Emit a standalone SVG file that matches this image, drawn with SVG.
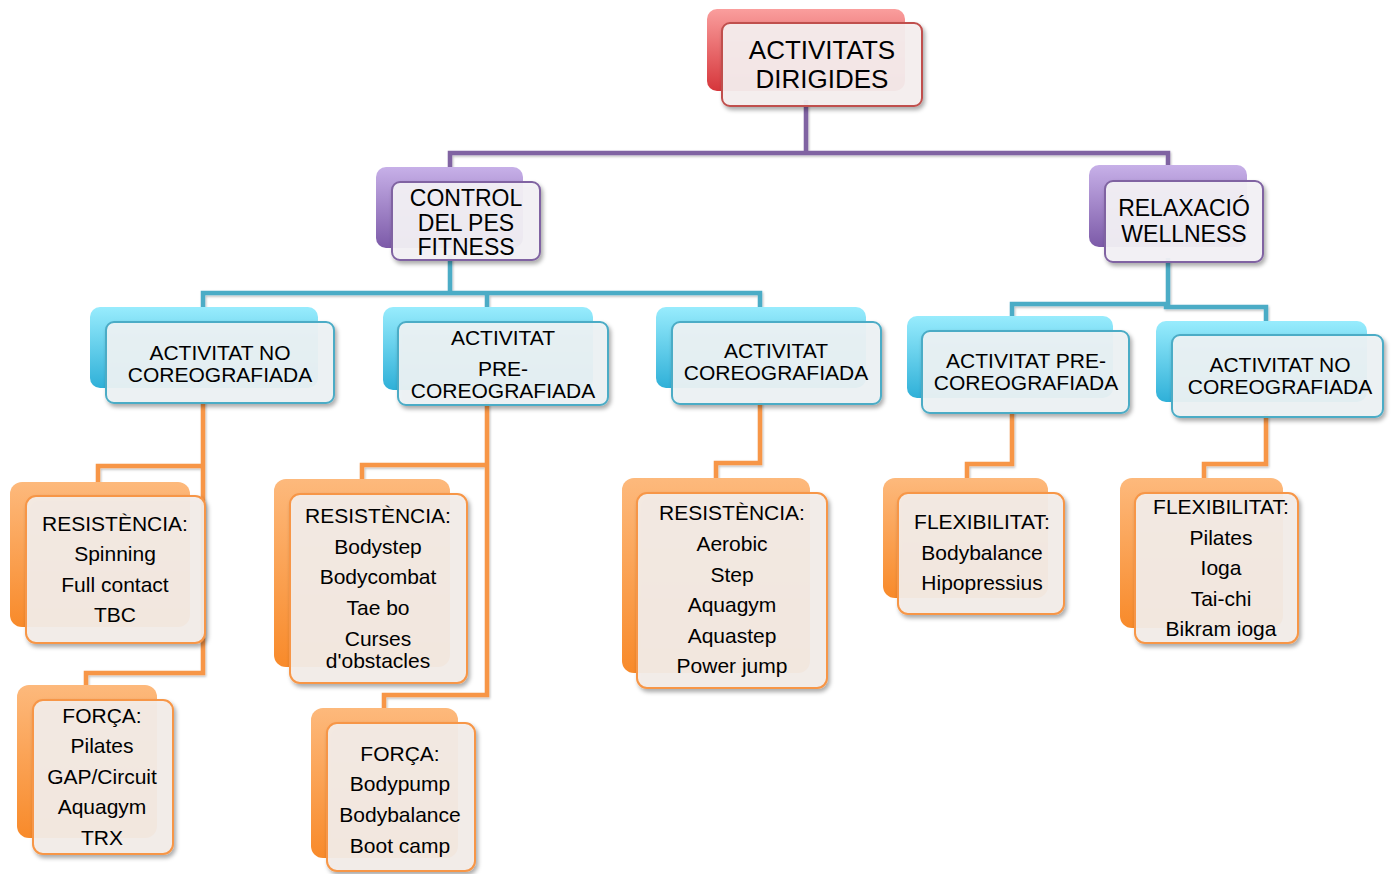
<svg xmlns="http://www.w3.org/2000/svg" width="1399" height="874" viewBox="0 0 1399 874">
<defs>
<linearGradient id="gRed" x1="0" y1="0" x2="0" y2="1"><stop offset="0" stop-color="#fa9e9d"/><stop offset="1" stop-color="#d6363b"/></linearGradient>
<linearGradient id="gPur" x1="0" y1="0" x2="0" y2="1"><stop offset="0" stop-color="#c7b0e8"/><stop offset="1" stop-color="#7c5aa8"/></linearGradient>
<linearGradient id="gCya" x1="0" y1="0" x2="0" y2="1"><stop offset="0" stop-color="#98ecfd"/><stop offset="1" stop-color="#2fb0d8"/></linearGradient>
<linearGradient id="gOra" x1="0" y1="0" x2="0" y2="1"><stop offset="0" stop-color="#fdb97c"/><stop offset="1" stop-color="#f88a2a"/></linearGradient>
<filter id="sh" x="-10%" y="-10%" width="125%" height="130%"><feDropShadow dx="2" dy="3" stdDeviation="2.2" flood-color="#000" flood-opacity="0.35"/></filter>
<filter id="lsh" x="-5%" y="-5%" width="110%" height="110%"><feDropShadow dx="1" dy="1.5" stdDeviation="1" flood-color="#000" flood-opacity="0.25"/></filter>
</defs>
<style>
.t{font-family:"Liberation Sans",Arial,sans-serif;fill:#000;text-anchor:middle}
.t26{font-size:26px}.t23{font-size:23px}.t22{font-size:22px}.t21{font-size:21px}
.f{stroke-width:2}
.fr{fill:#f6f0f0;fill-opacity:0.93;stroke:#c0504d}
.fp{fill:#f4f2f6;fill-opacity:0.93;stroke:#8064a2}
.fc{fill:#eef3f5;fill-opacity:0.93;stroke:#4bacc6}
.fo{fill:#f4eee9;fill-opacity:0.93;stroke:#f79646}
.c{fill:none;stroke-width:4.5;stroke-linejoin:miter}
.cp{stroke:#8064a2}.cc{stroke:#4bacc6}.co{stroke:#f79646}
</style>
<g id="connectors" filter="url(#lsh)">
<path class="c cp" d="M806,100 V153 H450 V185 M806,153 H1168 V185"/>
<path class="c cc" d="M450,255 V293 H203 V325 M450,293 H760 V325 M487,293 V325"/>
<path class="c cc" d="M1168,258 V304 H1012 V334 M1166,304 V307 H1266 V338"/>
<path class="c co" d="M203,400 V673 H86 V702 M203,466 H98 V498"/>
<path class="c co" d="M487,402 V695 H384 V725 M487,465 H362 V496"/>
<path class="c co" d="M760,400 V463 H716 V495"/>
<path class="c co" d="M1012,410 V464 H967 V495"/>
<path class="c co" d="M1266,414 V464 H1204 V495"/>
</g>
<g id="n-activitats-dirigides">
<rect x="707" y="9" width="198" height="82" rx="10" fill="url(#gRed)"/>
<rect class="f fr" x="722" y="23" width="200" height="83" rx="8" filter="url(#sh)"/>
<text class="t t26" x="822" y="59">ACTIVITATS</text>
<text class="t t26" x="822" y="88">DIRIGIDES</text>
</g>
<g id="n-control-del-pes">
<rect x="376" y="167" width="147" height="81" rx="10" fill="url(#gPur)"/>
<rect class="f fp" x="392" y="182" width="148" height="78" rx="8" filter="url(#sh)"/>
<text class="t t23" x="466" y="206">CONTROL</text>
<text class="t t23" x="466" y="231">DEL PES</text>
<text class="t t23" x="466" y="255">FITNESS</text>
</g>
<g id="n-relaxacio">
<rect x="1089" y="165" width="158" height="82" rx="10" fill="url(#gPur)"/>
<rect class="f fp" x="1105" y="181" width="158" height="81" rx="8" filter="url(#sh)"/>
<text class="t t23" x="1184" y="216">RELAXACIÓ</text>
<text class="t t23" x="1184" y="242">WELLNESS</text>
</g>
<g id="n-no-coreo-1">
<rect x="90" y="307" width="228" height="81" rx="10" fill="url(#gCya)"/>
<rect class="f fc" x="106" y="322" width="228" height="81" rx="8" filter="url(#sh)"/>
<text class="t t21" x="220" y="360">ACTIVITAT NO</text>
<text class="t t21" x="220" y="382">COREOGRAFIADA</text>
</g>
<g id="n-pre-coreo-1">
<rect x="383" y="307" width="210" height="83" rx="10" fill="url(#gCya)"/>
<rect class="f fc" x="398" y="322" width="210" height="83" rx="8" filter="url(#sh)"/>
<text class="t t21" x="503" y="345">ACTIVITAT</text>
<text class="t t21" x="503" y="376">PRE-</text>
<text class="t t21" x="503" y="398">COREOGRAFIADA</text>
</g>
<g id="n-coreo">
<rect x="656" y="307" width="210" height="81" rx="10" fill="url(#gCya)"/>
<rect class="f fc" x="672" y="322" width="209" height="82" rx="8" filter="url(#sh)"/>
<text class="t t21" x="776" y="358">ACTIVITAT</text>
<text class="t t21" x="776" y="380">COREOGRAFIADA</text>
</g>
<g id="n-pre-coreo-2">
<rect x="907" y="316" width="206" height="82" rx="10" fill="url(#gCya)"/>
<rect class="f fc" x="922" y="331" width="207" height="82" rx="8" filter="url(#sh)"/>
<text class="t t21" x="1026" y="368">ACTIVITAT PRE-</text>
<text class="t t21" x="1026" y="390">COREOGRAFIADA</text>
</g>
<g id="n-no-coreo-2">
<rect x="1156" y="321" width="211" height="81" rx="10" fill="url(#gCya)"/>
<rect class="f fc" x="1172" y="335" width="211" height="82" rx="8" filter="url(#sh)"/>
<text class="t t21" x="1280" y="372">ACTIVITAT NO</text>
<text class="t t21" x="1280" y="394">COREOGRAFIADA</text>
</g>
<g id="n-resistencia-1">
<rect x="10" y="482" width="180" height="145" rx="12" fill="url(#gOra)"/>
<rect class="f fo" x="26" y="496" width="179" height="147" rx="10" filter="url(#sh)"/>
<text class="t t21" x="115" y="531">RESISTÈNCIA:</text>
<text class="t t21" x="115" y="561">Spinning</text>
<text class="t t21" x="115" y="592">Full contact</text>
<text class="t t21" x="115" y="622">TBC</text>
</g>
<g id="n-forca-1">
<rect x="17" y="685" width="140" height="153" rx="12" fill="url(#gOra)"/>
<rect class="f fo" x="33" y="700" width="140" height="154" rx="10" filter="url(#sh)"/>
<text class="t t21" x="102" y="723">FORÇA:</text>
<text class="t t21" x="102" y="753">Pilates</text>
<text class="t t21" x="102" y="784">GAP/Circuit</text>
<text class="t t21" x="102" y="814">Aquagym</text>
<text class="t t21" x="102" y="845">TRX</text>
</g>
<g id="n-resistencia-2">
<rect x="274" y="479" width="176" height="188" rx="12" fill="url(#gOra)"/>
<rect class="f fo" x="290" y="494" width="177" height="189" rx="10" filter="url(#sh)"/>
<text class="t t21" x="378" y="523">RESISTÈNCIA:</text>
<text class="t t21" x="378" y="554">Bodystep</text>
<text class="t t21" x="378" y="584">Bodycombat</text>
<text class="t t21" x="378" y="615">Tae bo</text>
<text class="t t21" x="378" y="646">Curses</text>
<text class="t t21" x="378" y="668">d'obstacles</text>
</g>
<g id="n-forca-2">
<rect x="311" y="708" width="147" height="150" rx="12" fill="url(#gOra)"/>
<rect class="f fo" x="327" y="723" width="148" height="148" rx="10" filter="url(#sh)"/>
<text class="t t21" x="400" y="761">FORÇA:</text>
<text class="t t21" x="400" y="791">Bodypump</text>
<text class="t t21" x="400" y="822">Bodybalance</text>
<text class="t t21" x="400" y="853">Boot camp</text>
</g>
<g id="n-resistencia-3">
<rect x="622" y="478" width="188" height="195" rx="12" fill="url(#gOra)"/>
<rect class="f fo" x="637" y="493" width="190" height="195" rx="10" filter="url(#sh)"/>
<text class="t t21" x="732" y="520">RESISTÈNCIA:</text>
<text class="t t21" x="732" y="551">Aerobic</text>
<text class="t t21" x="732" y="582">Step</text>
<text class="t t21" x="732" y="612">Aquagym</text>
<text class="t t21" x="732" y="643">Aquastep</text>
<text class="t t21" x="732" y="673">Power jump</text>
</g>
<g id="n-flexibilitat-1">
<rect x="883" y="478" width="165" height="120" rx="12" fill="url(#gOra)"/>
<rect class="f fo" x="898" y="493" width="166" height="121" rx="10" filter="url(#sh)"/>
<text class="t t21" x="982" y="529">FLEXIBILITAT:</text>
<text class="t t21" x="982" y="560">Bodybalance</text>
<text class="t t21" x="982" y="590">Hipopressius</text>
</g>
<g id="n-flexibilitat-2">
<rect x="1120" y="478" width="163" height="150" rx="12" fill="url(#gOra)"/>
<rect class="f fo" x="1135" y="493" width="163" height="150" rx="10" filter="url(#sh)"/>
<text class="t t21" x="1221" y="514">FLEXIBILITAT:</text>
<text class="t t21" x="1221" y="545">Pilates</text>
<text class="t t21" x="1221" y="575">Ioga</text>
<text class="t t21" x="1221" y="606">Tai-chi</text>
<text class="t t21" x="1221" y="636">Bikram ioga</text>
</g>
</svg>
